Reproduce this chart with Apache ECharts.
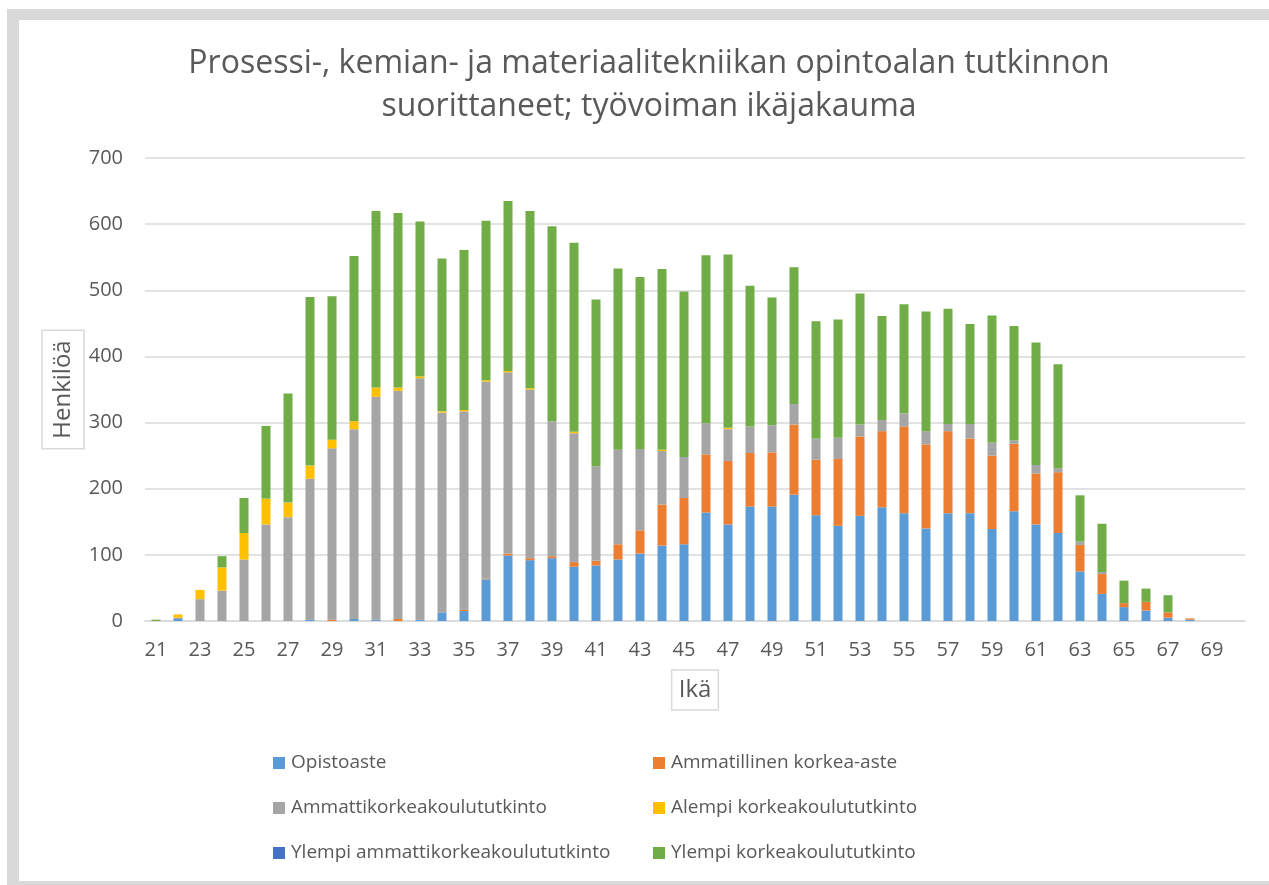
<!DOCTYPE html>
<html>
<head>
<meta charset="utf-8">
<script src="https://cdn.jsdelivr.net/npm/echarts@6/dist/echarts.min.js"></script>
<style>
  html, body { margin: 0; padding: 0; background: #fff; }
  #chart { width: 1269px; height: 885px; }
</style>
</head>
<body>
<div id="chart"></div>
<script>
// ages 21..70
var ages = ['21', '22', '23', '24', '25', '26', '27', '28', '29', '30',
  '31', '32', '33', '34', '35', '36', '37', '38', '39', '40',
  '41', '42', '43', '44', '45', '46', '47', '48', '49', '50',
  '51', '52', '53', '54', '55', '56', '57', '58', '59', '60',
  '61', '62', '63', '64', '65', '66', '67', '68', '69', '70'];

var opistoaste = [0, 3, 0, 0, 0, 0, 0, 2, 0, 3,
  2, 0, 2, 13, 15, 63, 99, 92, 95, 82,
  84, 93, 102, 114, 116, 164, 146, 173, 173, 191,
  160, 144, 159, 172, 163, 140, 163, 163, 139, 166,
  146, 133, 75, 41, 21, 16, 5, 2, 0, 0];

var ammatillinen = [0, 0, 0, 0, 0, 0, 0, 0, 2, 0,
  0, 3, 0, 0, 2, 1, 3, 3, 3, 7,
  7, 23, 35, 62, 70, 88, 96, 81, 82, 106,
  84, 101, 120, 115, 131, 127, 124, 113, 111, 102,
  77, 92, 40, 30, 6, 13, 8, 2, 0, 0];

var amk = [0, 2, 33, 46, 93, 146, 157, 213, 259, 287,
  337, 345, 365, 302, 300, 298, 274, 255, 204, 195,
  143, 143, 123, 81, 62, 47, 48, 40, 41, 31,
  32, 32, 18, 17, 20, 20, 11, 22, 20, 5,
  13, 6, 5, 3, 0, 0, 0, 0, 0, 0];

var alempiKk = [0, 5, 14, 35, 40, 39, 22, 20, 13, 12,
  14, 5, 3, 2, 2, 2, 2, 2, 0, 2,
  0, 0, 0, 2, 0, 0, 2, 0, 0, 0,
  0, 0, 0, 0, 0, 0, 0, 0, 0, 0,
  0, 0, 0, 0, 0, 0, 0, 0, 0, 0];

var ylempiAmk = [0, 0, 0, 0, 0, 0, 0, 0, 0, 0,
  0, 0, 0, 0, 0, 0, 0, 0, 0, 0,
  0, 0, 0, 0, 0, 0, 0, 0, 0, 0,
  0, 0, 0, 0, 0, 0, 0, 0, 0, 0,
  0, 0, 0, 0, 0, 0, 0, 0, 0, 0];

var ylempiKk = [2, 0, 0, 17, 53, 110, 165, 255, 217, 250,
  267, 264, 234, 231, 242, 241, 257, 268, 295, 286,
  252, 274, 260, 273, 250, 254, 262, 213, 193, 207,
  177, 179, 198, 157, 165, 181, 174, 151, 192, 173,
  185, 157, 70, 73, 34, 20, 26, 0, 0, 0];

var seriesNames = ['Opistoaste', 'Ammatillinen korkea-aste', 'Ammattikorkeakoulututkinto',
  'Alempi korkeakoulututkinto', 'Ylempi ammattikorkeakoulututkinto', 'Ylempi korkeakoulututkinto'];
var seriesData = [opistoaste, ammatillinen, amk, alempiKk, ylempiAmk, ylempiKk];
var colors = ['#5B9BD5', '#ED7D31', '#A5A5A5', '#FFC000', '#4472C4', '#70AD47'];

var font = '"Open Sans", sans-serif';
var textColor = '#595959';

var chart = echarts.init(document.getElementById('chart'));

var series = seriesNames.map(function (name, i) {
  return {
    name: name,
    type: 'bar',
    stack: 'total',
    barWidth: 9,
    itemStyle: { color: colors[i] },
    emphasis: { disabled: true },
    data: seriesData[i]
  };
});

chart.setOption({
  backgroundColor: '#fff',
  animation: false,
  color: colors,
  // grey frame round the chart area
  graphic: [
    { type: 'rect', z: -10, silent: true, shape: { x: 7, y: 9, width: 1300, height: 900 }, style: { fill: '#D9D9D9' } },
    { type: 'rect', z: -9, silent: true, shape: { x: 19, y: 20, width: 1300, height: 861 }, style: { fill: '#fff' } }
  ],
  title: {
    text: 'Prosessi-, kemian- ja materiaalitekniikan opintoalan tutkinnon\nsuorittaneet; työvoiman ikäjakauma',
    left: 644,
    textAlign: 'center',
    top: 37,
    textStyle: {
      fontFamily: font,
      fontSize: 32,
      fontWeight: 'normal',
      color: textColor,
      lineHeight: 43
    }
  },
  legend: {
    left: 268,
    top: 746,
    width: 800,
    itemWidth: 12,
    itemHeight: 12,
    itemGap: 21,
    icon: 'rect',
    selectedMode: false,
    textStyle: {
      fontFamily: font,
      fontSize: 19,
      color: textColor,
      width: 341,
      lineHeight: 24,
      padding: [0, 0, 0, 1]
    },
    data: seriesNames
  },
  grid: {
    left: 145,
    right: 24,
    top: 158,
    bottom: 264
  },
  xAxis: {
    type: 'category',
    data: ages,
    name: 'Ikä',
    nameLocation: 'middle',
    nameGap: 49,
    nameMoveOverlap: false,
    nameTextStyle: {
      fontFamily: font,
      fontSize: 24,
      color: textColor,
      borderColor: '#D9D9D9',
      borderWidth: 1.5,
      padding: [5, 7, 5, 7],
      lineHeight: 30
    },
    axisLine: { lineStyle: { color: '#D9D9D9', width: 1.5 } },
    axisTick: { show: false },
    axisLabel: {
      interval: 1,
      margin: 19,
      fontFamily: font,
      fontSize: 20,
      color: textColor
    }
  },
  yAxis: {
    type: 'value',
    min: 0,
    max: 700,
    interval: 100,
    name: 'Henkilöä',
    nameLocation: 'middle',
    nameGap: 61,
    nameMoveOverlap: false,
    nameRotate: 90,
    nameTextStyle: {
      fontFamily: font,
      fontSize: 24,
      color: textColor,
      borderColor: '#D9D9D9',
      borderWidth: 1.5,
      padding: [6, 10, 6, 10],
      lineHeight: 30
    },
    axisLine: { show: false },
    axisTick: { show: false },
    splitLine: { lineStyle: { color: '#D9D9D9', width: 1.5 } },
    axisLabel: {
      margin: 22,
      fontFamily: font,
      fontSize: 20,
      color: textColor
    }
  },
  series: series
});
</script>
</body>
</html>
